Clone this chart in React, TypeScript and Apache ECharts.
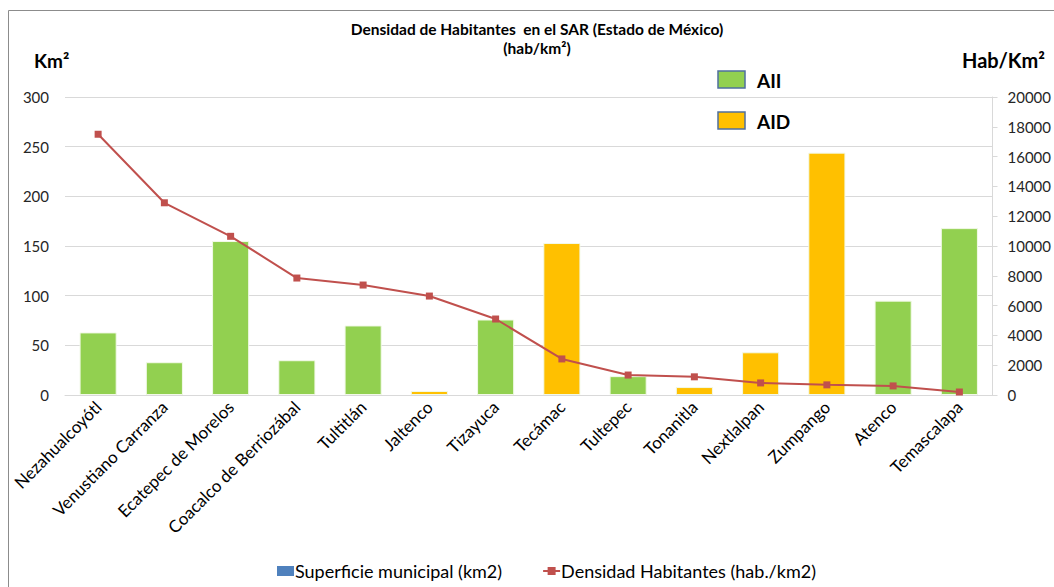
import React, { useEffect, useRef } from "react";
import * as echarts from "echarts";

const categories = [
  "Nezahualcoyótl",
  "Venustiano Carranza",
  "Ecatepec de Morelos",
  "Coacalco de Berriozábal",
  "Tultitlán",
  "Jaltenco",
  "Tizayuca",
  "Tecámac",
  "Tultepec",
  "Tonanitla",
  "Nextlalpan",
  "Zumpango",
  "Atenco",
  "Temascalapa",
];
const superficie = [63, 33, 155, 35, 70, 4, 76, 153, 19, 8, 43, 244, 95, 168];
const area = ["AII", "AII", "AII", "AII", "AII", "AID", "AII", "AID", "AII", "AID", "AID", "AID", "AII", "AII"];
const densidad = [17500, 12900, 10650, 7850, 7380, 6640, 5100, 2420, 1340, 1220, 810, 680, 610, 200];

const areaColors: Record<string, string> = { AII: "#92D050", AID: "#FFC000" };
const FONT = "Lato, 'Liberation Sans', sans-serif";

export default function App() {
  const ref = useRef<HTMLDivElement>(null);
  useEffect(() => {
    if (!ref.current) return;
    const chart = echarts.init(ref.current, null, { renderer: "svg" });
    chart.setOption({
      animation: false,
      backgroundColor: "#ffffff",
      textStyle: { fontFamily: FONT },
      graphic: [
        {
          type: "rect",
          shape: { x: 8.5, y: 10.5, width: 1100, height: 700 },
          style: { fill: "none", stroke: "#8c8c8c", lineWidth: 1 },
          silent: true,
          z: -10,
        },
        {
          type: "text",
          x: 537,
          y: 29,
          style: {
            text: "Densidad de Habitantes  en el SAR (Estado de México)",
            font: `bold 15.5px ${FONT}`,
            fill: "#000",
            align: "center",
            verticalAlign: "middle",
          },
        },
        {
          type: "text",
          x: 537,
          y: 48,
          style: {
            text: "(hab/km²)",
            font: `bold 15.5px ${FONT}`,
            fill: "#000",
            align: "center",
            verticalAlign: "middle",
          },
        },
        {
          type: "text",
          x: 34,
          y: 60,
          style: { text: "Km²", font: `bold 19px ${FONT}`, fill: "#000", verticalAlign: "middle" },
        },
        {
          type: "text",
          x: 962,
          y: 60,
          style: { text: "Hab/Km²", font: `bold 20px ${FONT}`, fill: "#000", verticalAlign: "middle" },
        },
        {
          type: "rect",
          shape: { x: 718, y: 71, width: 27, height: 17 },
          style: { fill: "#92D050", stroke: "#4F6F9F", lineWidth: 1.5 },
        },
        {
          type: "text",
          x: 757,
          y: 80,
          style: { text: "AII", font: `bold 19px ${FONT}`, fill: "#000", verticalAlign: "middle" },
        },
        {
          type: "rect",
          shape: { x: 718, y: 112, width: 27, height: 17 },
          style: { fill: "#FFC000", stroke: "#4F6F9F", lineWidth: 1.5 },
        },
        {
          type: "text",
          x: 757,
          y: 121,
          style: { text: "AID", font: `bold 19px ${FONT}`, fill: "#000", verticalAlign: "middle" },
        },
      ],
      legend: {
        bottom: 2,
        left: 272,
        itemGap: 40,
        itemWidth: 17,
        itemHeight: 10,
        textStyle: { fontSize: 18, color: "#000", fontFamily: FONT, padding: [0, 0, 0, -4] },
        data: [
          { name: "Superficie municipal (km2)", icon: "rect" },
          { name: "Densidad Habitantes (hab./km2)" },
        ],
      },
      grid: { left: 65, right: 52, top: 97, bottom: 192 },
      xAxis: {
        type: "category",
        data: categories,
        axisLine: { show: true, lineStyle: { color: "#D9D9D9", width: 1 } },
        axisTick: { show: false },
        axisLabel: {
          rotate: 45,
          interval: 0,
          fontSize: 17,
          color: "#000",
          margin: 9,
          fontFamily: FONT,
        },
      },
      yAxis: [
        {
          type: "value",
          min: 0,
          max: 300,
          interval: 50,
          axisLine: { show: false },
          axisTick: { show: false },
          axisLabel: { fontSize: 15, color: "#262626", margin: 16, fontFamily: FONT },
          splitLine: { lineStyle: { color: "#D9D9D9", width: 1 } },
        },
        {
          type: "value",
          min: 0,
          max: 20000,
          interval: 2000,
          position: "right",
          axisLine: { show: true, lineStyle: { color: "#D9D9D9" } },
          axisTick: { show: true, length: 5, lineStyle: { color: "#D9D9D9" } },
          axisLabel: {
            fontSize: 15,
            color: "#262626",
            margin: 15,
            fontFamily: FONT,
            formatter: (v: number) => String(v),
          },
          splitLine: { show: false },
        },
      ],
      series: [
        {
          name: "Superficie municipal (km2)",
          type: "bar",
          yAxisIndex: 0,
          barWidth: "56%",
          itemStyle: { color: "#4F81BD" },
          data: superficie.map((v, i) => ({
            value: v,
            itemStyle: { color: areaColors[area[i]], borderColor: "#f2f9e8", borderWidth: 1 },
          })),
        },
        {
          name: "Densidad Habitantes (hab./km2)",
          type: "line",
          yAxisIndex: 1,
          data: densidad,
          symbol: "rect",
          symbolSize: 7,
          lineStyle: { color: "#C0504D", width: 2 },
          itemStyle: { color: "#C0504D" },
          z: 5,
        },
      ],
    });
    return () => chart.dispose();
  }, []);
  return (
    <div
      ref={ref}
      style={{ position: "absolute", left: 0, top: 0, width: 1054, height: 587 }}
    />
  );
}
